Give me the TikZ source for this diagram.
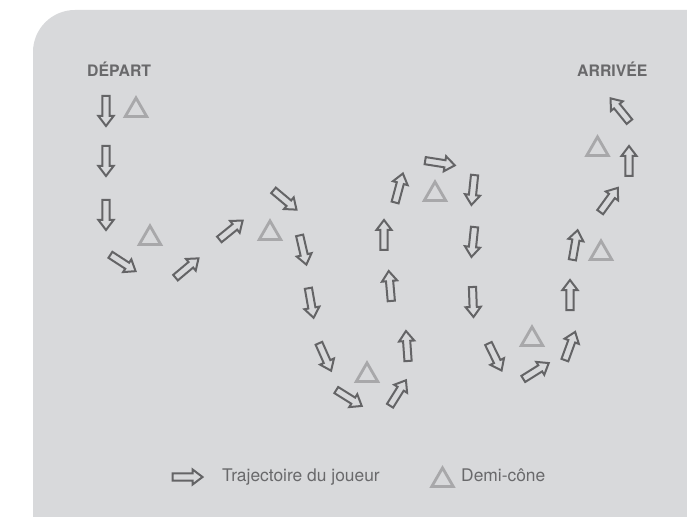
\documentclass[tikz,border=0pt]{standalone}
\usepackage{fontspec}
\setmainfont{TeX Gyre Heros}
\usepackage{tikz}
\usetikzlibrary{shapes.geometric}
\definecolor{fondgris}{RGB}{216,217,219}
\definecolor{flechegris}{RGB}{100,100,102}
\definecolor{conegris}{RGB}{168,168,170}
\definecolor{textegris}{RGB}{105,105,107}
\tikzset{
  trajet/.pic={\draw[flechegris,fill=fondgris,line width=2bp,line join=miter]
    (-15,-3.6) -- (5,-3.6) -- (5,-7.6) -- (15,0) -- (5,7.6) -- (5,3.6) -- (-15,3.6) -- cycle;},
  cone/.style={regular polygon,regular polygon sides=3,draw=conegris,line width=2.8bp,
    minimum size=24.8bp,inner sep=0pt},
  titre/.style={font=\fontsize{15.8bp}{18bp}\selectfont\bfseries,text=textegris,inner sep=0pt,anchor=base west},
  legende/.style={font=\fontsize{17.4bp}{20bp}\selectfont,text=textegris,inner sep=0pt,anchor=base west}
}

\begin{document}
\begin{tikzpicture}[x=1bp,y=-1bp]
\useasboundingbox (0,0) rectangle (687,517);
% panel
\fill[white] (0,0) rectangle (687,517);
\fill[fondgris] (687,517) -- (33,517) [rounded corners=42bp] -- (33,10) [sharp corners] -- (687,10) -- cycle;
% start and finish
\node[titre] (depart) at (87,77) {DÉPART};
\node[titre] (arrivee) at (577,77) {ARRIVÉE};
% half cones
\node[cone] (c1) at (136,110.3) {};
\node[cone] (c2) at (150,238.3) {};
\node[cone] (c3) at (270,233.3) {};
\node[cone] (c4) at (435,194.3) {};
\node[cone] (c5) at (367,375.3) {};
\node[cone] (c6) at (532,339.3) {};
\node[cone] (c7) at (601,253.3) {};
\node[cone] (c8) at (597.5,149.3) {};
% player path, first loop
\pic[rotate=-90] at (106,111) {trajet};
\pic[rotate=-90] at (106,161) {trajet};
\pic[rotate=-90] at (106,215) {trajet};
\pic[rotate=-33] at (123,263) {trajet};
\pic[rotate=40] at (187,268) {trajet};
\pic[rotate=39] at (231,230) {trajet};
\pic[rotate=-40] at (285,200) {trajet};
\pic[rotate=-77] at (303,250) {trajet};
\pic[rotate=-80] at (311,303) {trajet};
\pic[rotate=-66] at (325,357) {trajet};
\pic[rotate=-32] at (349,398) {trajet};
\pic[rotate=58] at (398,393) {trajet};
\pic[rotate=94] at (407,346) {trajet};
\pic[rotate=95] at (390,286) {trajet};
\pic[rotate=90] at (384,235) {trajet};
\pic[rotate=75] at (399,188) {trajet};
% player path, second loop
\pic[rotate=-9] at (440,163) {trajet};
\pic[rotate=-96] at (473,190) {trajet};
\pic[rotate=-96] at (473,242) {trajet};
\pic[rotate=-88] at (473,302) {trajet};
\pic[rotate=-64] at (495,357) {trajet};
\pic[rotate=32] at (536,371) {trajet};
\pic[rotate=70] at (570,346) {trajet};
\pic[rotate=90] at (570,295) {trajet};
\pic[rotate=80] at (575,245) {trajet};
\pic[rotate=54] at (609,200) {trajet};
\pic[rotate=90] at (629,161) {trajet};
\pic[rotate=129] at (620,110) {trajet};
% legend
\pic at (187.5,477) {trajet};
\node[legende] (leg1) at (222,481.5) {Trajectoire du joueur};
\node[cone] (c9) at (442.5,480.3) {};
\node[legende] (leg2) at (461,481.5) {Demi-cône};
\end{tikzpicture}
\end{document}
